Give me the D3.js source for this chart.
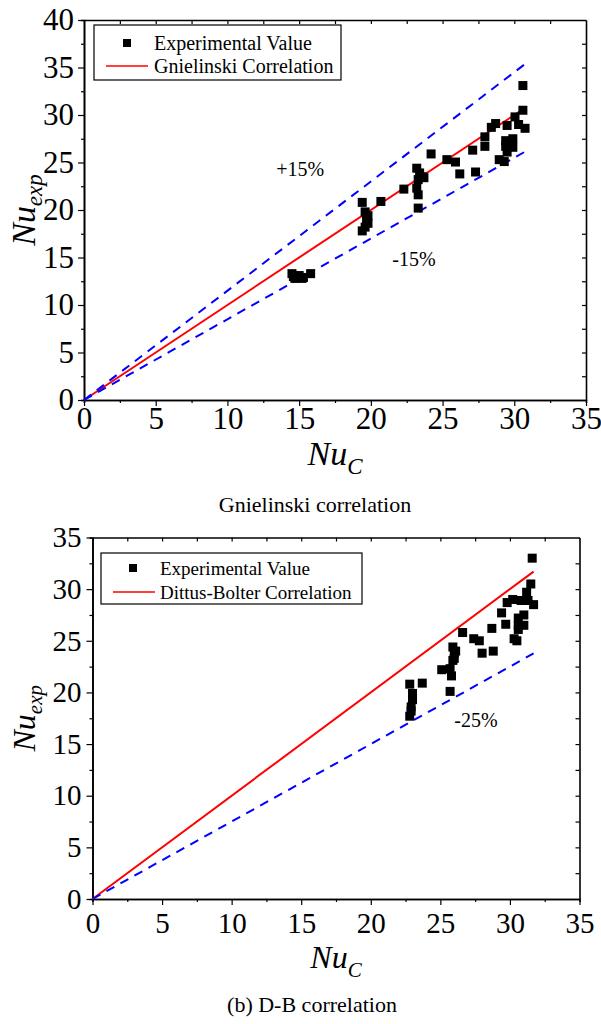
<!DOCTYPE html>
<html>
<head>
<meta charset="utf-8">
<script src="https://cdn.jsdelivr.net/npm/d3@7"></script>
<style>
  body { margin: 0; background: #fff; }
  text { font-family: "Liberation Serif", "Times New Roman", serif; fill: #000; }
</style>
</head>
<body>
<div id="chart"></div>
<script>
// ---- data ----
const xTicks = [0, 5, 10, 15, 20, 25, 30, 35];
const gnYTicks = [0, 5, 10, 15, 20, 25, 30, 35, 40];
const dbYTicks = [0, 5, 10, 15, 20, 25, 30, 35];

// (a) Gnielinski: correlation Nu vs experimental Nu
const gnNuC = [14.5, 14.6, 14.7, 15.0, 15.2, 15.3, 15.8,
  19.4, 19.6, 19.8, 19.7, 19.8, 19.6, 19.4, 20.7,
  22.3, 23.2, 23.4, 23.6, 23.3, 23.7, 23.2, 23.3, 23.3, 24.2,
  25.3, 25.9, 26.2, 27.1, 27.3, 27.95, 27.95, 28.4, 28.7, 28.95, 29.3,
  29.5, 29.4, 29.9, 29.4, 29.9, 29.5, 30.05, 30.3, 30.75, 30.6, 30.6];
const gnNuExp = [13.3, 13.0, 12.8, 13.1, 12.8, 12.9, 13.3,
  20.8, 19.8, 19.4, 19.0, 18.6, 18.2, 17.8, 20.9,
  22.2, 24.4, 23.9, 23.5, 23.2, 23.4, 22.3, 21.6, 20.2, 25.9,
  25.3, 25.05, 23.8, 26.3, 24.0, 27.7, 26.7, 28.7, 29.1, 25.3, 25.1,
  28.9, 27.3, 27.5, 26.7, 26.6, 26.1, 29.8, 29.0, 28.6, 30.5, 33.1];

// (b) Dittus-Bolter
const dbNuC = [31.6, 31.5, 31.2, 30.8, 31.3, 31.7, 29.8, 30.2, 29.4, 29.7,
  30.6, 31.0, 30.6, 31.0, 30.6, 30.3, 30.5, 28.7, 28.8, 28.0, 27.4, 27.8,
  26.6, 25.9, 26.0, 26.0, 25.9, 26.1, 25.7, 25.8, 25.1, 25.7,
  22.8, 23.7, 23.0, 23.0, 22.9, 22.9, 22.8];
const dbNuExp = [33.0, 30.5, 29.7, 28.9, 28.9, 28.5, 28.7, 29.0, 27.7, 26.6,
  27.2, 27.5, 26.5, 26.5, 26.1, 25.2, 25.0, 26.2, 24.0, 23.8, 25.2, 25.0,
  25.8, 24.4, 23.8, 23.3, 23.1, 24.0, 22.3, 21.6, 22.2, 20.1,
  20.8, 20.9, 19.9, 19.3, 18.6, 18.2, 17.7];

const gnLineEnd = 30.7;
const dbLineEnd = 31.7;
const gnBands = [1.15, 0.85];
const dbBands = [0.75];

// ---- drawing ----
const svg = d3.select("#chart")
  .append("svg")
    .attr("width", 601)
    .attr("height", 1024);

const drawPanel = (p) => {
  const x = d3.scaleLinear().domain([0, 35]).range([p.left, p.right]);
  const y = d3.scaleLinear().domain([0, p.yMax]).range([p.bottom, p.top]);
  const g = svg.append("g");

  const minorX = d3.range(2.5, 35, 5);
  const minorY = d3.range(2.5, p.yMax, 5);

  // bottom axis
  const bottomAxis = g.append("g")
    .attr("transform", `translate(0, ${p.bottom})`)
    .call(d3.axisBottom(x).tickValues(xTicks).tickSize(6).tickSizeOuter(0).tickPadding(p.xPad));
  bottomAxis.selectAll("text").style("font-size", p.tickFont + "px");
  g.append("g")
    .attr("transform", `translate(0, ${p.bottom})`)
    .call(d3.axisBottom(x).tickValues(minorX).tickSize(3).tickFormat(""));

  // left axis
  const leftAxis = g.append("g")
    .attr("transform", `translate(${p.left}, 0)`)
    .call(d3.axisLeft(y).tickValues(p.yTicks).tickSize(6).tickSizeOuter(0).tickPadding(p.yPad));
  leftAxis.selectAll("text").style("font-size", p.tickFont + "px");
  g.append("g")
    .attr("transform", `translate(${p.left}, 0)`)
    .call(d3.axisLeft(y).tickValues(minorY).tickSize(3).tickFormat(""));

  // top and right frame, ticks inward
  g.append("g")
    .attr("transform", `translate(0, ${p.top})`)
    .call(d3.axisTop(x).tickValues(d3.range(2.5, 35, 2.5)).tickSize(-4).tickSizeOuter(0).tickFormat(""));
  g.append("g")
    .attr("transform", `translate(${p.right}, 0)`)
    .call(d3.axisRight(y).tickValues(d3.range(2.5, p.yMax, 2.5)).tickSize(-4).tickSizeOuter(0).tickFormat(""));

  g.selectAll(".domain").attr("stroke-width", 1.6);
  g.selectAll(".tick line").attr("stroke-width", 1.2);

  // correlation line y = x and deviation bands
  const lineX = [0, p.lineEnd];
  g.append("path")
    .datum(lineX)
    .attr("d", d3.line().x(d => x(d)).y(d => y(d)))
    .attr("fill", "none")
    .attr("stroke", "#ff0000")
    .attr("stroke-width", 2);

  p.bands.forEach(f => {
    g.append("path")
      .datum(lineX)
      .attr("d", d3.line().x(d => x(d)).y(d => y(d * f)))
      .attr("fill", "none")
      .attr("stroke", "#0000ff")
      .attr("stroke-width", 2)
      .attr("stroke-dasharray", "9,7");
  });

  // experimental points
  const ms = 9;
  g.selectAll("rect.pt")
    .data(d3.zip(p.xs, p.ys))
    .join("rect")
      .attr("class", "pt")
      .attr("x", d => x(d[0]) - ms / 2)
      .attr("y", d => y(d[1]) - ms / 2)
      .attr("width", ms)
      .attr("height", ms)
      .attr("fill", "#000");

  // band labels
  p.bandLabels.forEach(b => {
    g.append("text")
      .attr("x", x(b.x))
      .attr("y", y(b.y))
      .style("font-size", "20px")
      .text(b.text);
  });

  // legend
  const lg = p.legend;
  g.append("rect")
    .attr("x", lg.x).attr("y", lg.y)
    .attr("width", lg.w).attr("height", lg.h)
    .attr("fill", "#fff").attr("stroke", "#000").attr("stroke-width", 1.2);
  g.append("rect")
    .attr("x", lg.x + lg.marker - 4).attr("y", lg.y + lg.row1 - 4)
    .attr("width", 8).attr("height", 8).attr("fill", "#000");
  g.append("text")
    .attr("x", lg.x + lg.textX).attr("y", lg.y + lg.row1 + 7)
    .style("font-size", lg.font + "px")
    .text("Experimental Value");
  g.append("line")
    .attr("x1", lg.x + 12).attr("x2", lg.x + 54)
    .attr("y1", lg.y + lg.row2).attr("y2", lg.y + lg.row2)
    .attr("stroke", "#ff0000").attr("stroke-width", 1.6);
  g.append("text")
    .attr("x", lg.x + lg.textX).attr("y", lg.y + lg.row2 + 7)
    .style("font-size", lg.font + "px")
    .text(p.corrName);

  // axis titles
  const yt = g.append("text")
    .attr("transform", `translate(${p.yTitleX}, ${(p.top + p.bottom) / 2}) rotate(-90)`)
    .attr("text-anchor", "middle")
    .style("font-style", "italic");
  yt.append("tspan").style("font-size", p.titleFont + "px").text("Nu");
  yt.append("tspan").attr("dy", 7).style("font-size", p.subFont + "px").text("exp");

  const xt = g.append("text")
    .attr("x", (p.left + p.right) / 2)
    .attr("y", p.xTitleY)
    .attr("text-anchor", "middle")
    .style("font-style", "italic");
  xt.append("tspan").style("font-size", p.titleFont + "px").text("Nu");
  xt.append("tspan").attr("dy", 9).style("font-size", p.subFont + "px").text("C");

  // caption
  g.append("text")
    .attr("x", p.captionX)
    .attr("y", p.captionY)
    .attr("text-anchor", "middle")
    .style("font-size", "22px")
    .text(p.caption);
};

drawPanel({
  left: 84, right: 586, top: 20, bottom: 400, yMax: 40,
  yTicks: gnYTicks, xs: gnNuC, ys: gnNuExp,
  lineEnd: gnLineEnd, bands: gnBands,
  bandLabels: [{ text: "+15%", x: 13.4, y: 23.6 }, { text: "-15%", x: 21.5, y: 14.1 }],
  tickFont: 31, xPad: 1, yPad: 4,
  legend: { x: 94, y: 25, w: 247, h: 55, marker: 33, textX: 60, row1: 18, row2: 41, font: 20 },
  corrName: "Gnielinski Correlation",
  yTitleX: 35, xTitleY: 465, titleFont: 34, subFont: 23,
  caption: "Gnielinski correlation", captionX: 315, captionY: 512
});

drawPanel({
  left: 92.5, right: 579.5, top: 537.5, bottom: 899, yMax: 35,
  yTicks: dbYTicks, xs: dbNuC, ys: dbNuExp,
  lineEnd: dbLineEnd, bands: dbBands,
  bandLabels: [{ text: "-25%", x: 26.0, y: 16.7 }],
  tickFont: 29, xPad: 7, yPad: 5,
  legend: { x: 101, y: 553, w: 261, h: 51, marker: 32, textX: 59, row1: 15, row2: 39, font: 19 },
  corrName: "Dittus-Bolter Correlation",
  yTitleX: 35, xTitleY: 968, titleFont: 32, subFont: 21,
  caption: "(b) D-B correlation", captionX: 312, captionY: 1012
});
</script>
</body>
</html>
